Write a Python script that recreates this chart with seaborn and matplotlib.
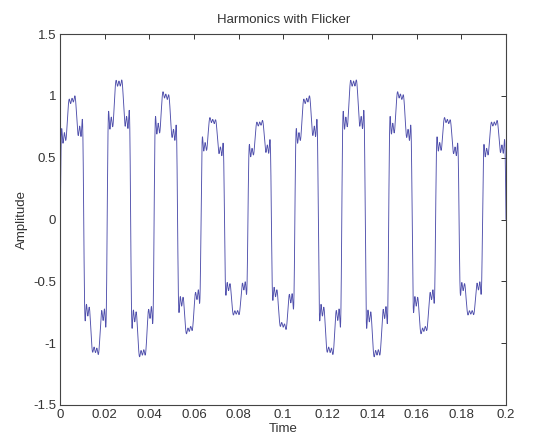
import numpy as np
import pandas as pd
import matplotlib
matplotlib.use("Agg")
import matplotlib.pyplot as plt
import seaborn as sns

# --- values ---
fundamental_hz = 47.5            # 9.5 cycles across 0..0.2 s
start_phase_deg = 0.0            # wave starts at its rising zero crossing
harmonic_order = [1, 3, 5, 7, 9, 11, 13, 15, 17]
harmonic_amp = [1.121, 0.189, 0.184, 0.167, 0.067, 0.061, 0.080, 0.042, 0.026]
flicker_hz = 9.5
flicker_mean = 0.925
flicker_depth = 0.175
flicker_peak_time = 0.028

x_ticks = [0, 0.02, 0.04, 0.06, 0.08, 0.1, 0.12, 0.14, 0.16, 0.18, 0.2]
x_tick_labels = ["0", "0.02", "0.04", "0.06", "0.08", "0.1", "0.12", "0.14", "0.16", "0.18", "0.2"]
y_ticks = [-1.5, -1, -0.5, 0, 0.5, 1, 1.5]
y_tick_labels = ["-1.5", "-1", "-0.5", "0", "0.5", "1", "1.5"]

# --- build the signal from the read parameters ---
t = np.linspace(0, 0.2, 12001)
theta = 2 * np.pi * fundamental_hz * t + np.deg2rad(start_phase_deg)
shape = np.zeros_like(t)
for k, a in zip(harmonic_order, harmonic_amp):
    shape += a * np.sin(k * theta)
envelope = flicker_mean + flicker_depth * np.cos(2 * np.pi * flicker_hz * (t - flicker_peak_time))
df = pd.DataFrame({"Time": t, "Amplitude": envelope * shape})

sns.set_style("white")
plt.rcParams["font.family"] = ["Liberation Sans", "DejaVu Sans"]

fig = plt.figure(figsize=(5.53, 4.43), dpi=100)
ax = fig.add_axes([0.109, 0.0858, 0.806, 0.8374])
sns.lineplot(data=df, x="Time", y="Amplitude", estimator=None, sort=False,
             color="#5050ac", linewidth=0.65, ax=ax)

ax.set_xlim(0, 0.2)
ax.set_ylim(-1.5, 1.5)
ax.set_xticks(x_ticks)
ax.set_xticklabels(x_tick_labels)
ax.set_yticks(y_ticks)
ax.set_yticklabels(y_tick_labels)
ax.tick_params(direction="in", length=3.5, width=0.7, top=True, right=True,
               labelsize=9.5, colors="#333333", pad=3)
for s in ax.spines.values():
    s.set_color("#444444")
    s.set_linewidth(0.8)
ax.set_xlabel("Time", fontsize=9.5, color="#333333", labelpad=1)
ax.set_ylabel("Amplitude", fontsize=9.5, color="#333333", labelpad=4)
ax.set_title("Harmonics with Flicker", fontsize=9.5, color="#333333", pad=8)

fig.savefig("out.png", dpi=100, facecolor="white")
